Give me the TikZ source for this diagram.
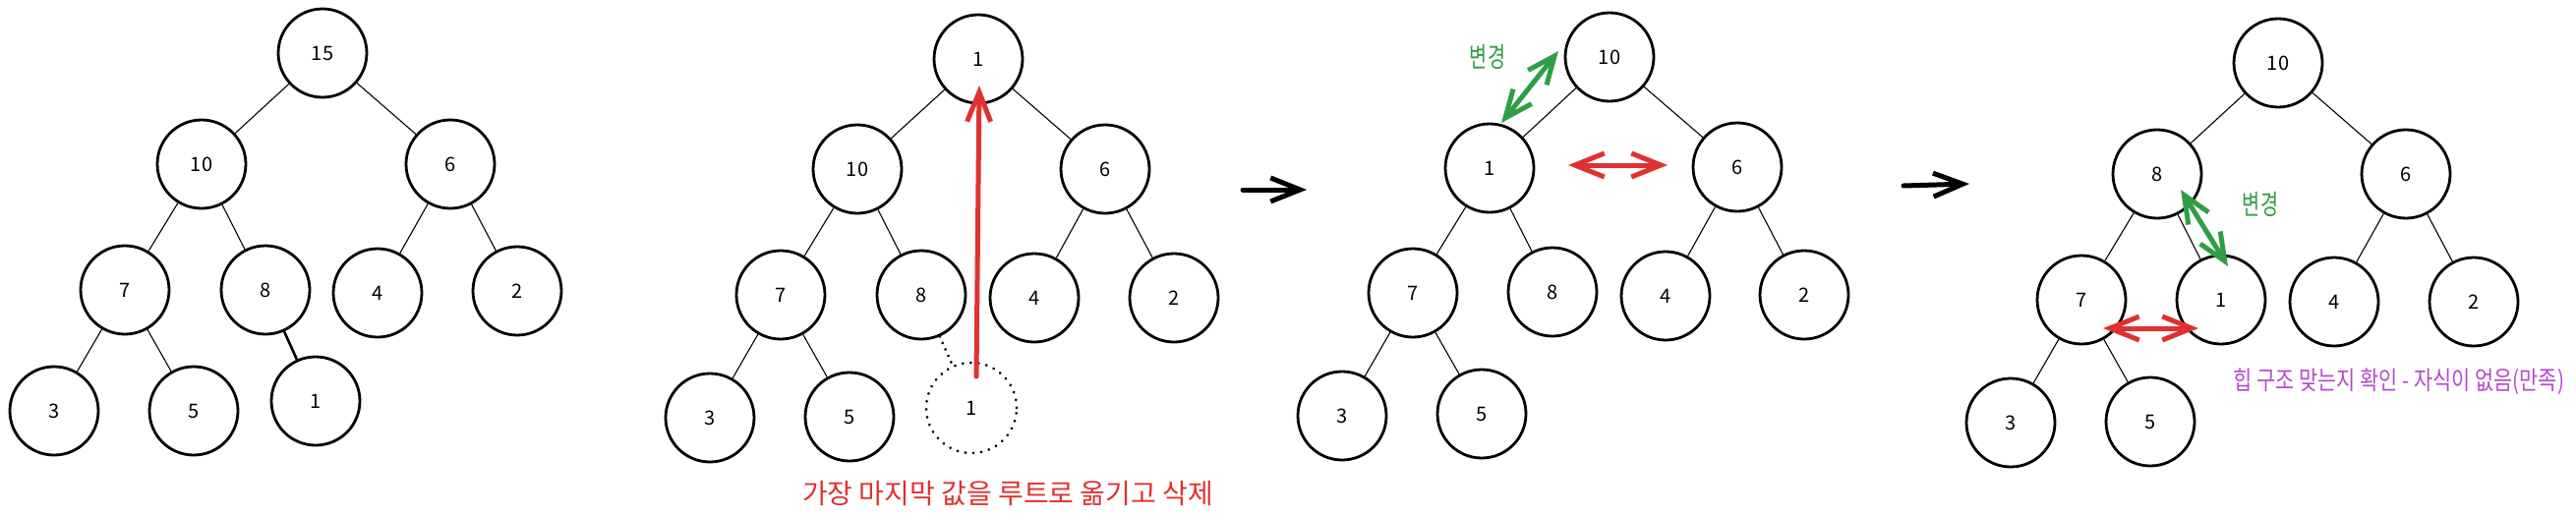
\documentclass[tikz,border=0pt]{standalone}
\usepackage{fontspec}
\setmainfont{Noto Sans CJK KR}
\newfontfamily\krwide{Noto Sans CJK KR}
\newfontfamily\krnarrow[FakeStretch=0.8]{Noto Sans CJK KR}
\newfontfamily\krtall[FakeStretch=0.7]{Noto Sans CJK KR}
\usetikzlibrary{arrows.meta}
\definecolor{exred}{HTML}{E03131}
\definecolor{exgreen}{HTML}{2F9E44}
\definecolor{exviolet}{RGB}{180,75,205}
\tikzset{
  hn/.style={circle, draw=black, line width=2.8pt, minimum size=90pt, inner sep=0pt,
             font=\fontsize{20}{24}\selectfont},
  dn/.style={circle, draw=black, line width=3pt, minimum size=92pt, inner sep=0pt,
             dash pattern=on 0.1pt off 8pt, line cap=round, font=\fontsize{20}{24}\selectfont},
  ed/.style={line width=1.1pt},
  edthick/.style={line width=2.6pt},
  eddot/.style={line width=3pt, dash pattern=on 0.1pt off 7pt, line cap=round},
  flowarrow/.style={line width=5pt, line cap=round, -{Straight Barb[length=30pt,width=24pt]}},
  redmove/.style={exred, line width=5pt, line cap=round, -{Straight Barb[length=30pt,width=24pt]}},
  swapred/.style={exred, line width=5pt, line cap=round,
                  {Straight Barb[length=30pt,width=24pt]}-{Straight Barb[length=30pt,width=24pt]}},
  swapgreen/.style={exgreen, line width=5pt, line cap=round,
                  {Straight Barb[length=28pt,width=24pt]}-{Straight Barb[length=28pt,width=24pt]}},
  redlabel/.style={text=exred, font=\krwide\fontsize{28}{32}\selectfont, inner sep=0pt},
  greenlabel/.style={text=exgreen, font=\krtall\fontsize{28}{32}\selectfont, inner sep=0pt},
  violetlabel/.style={text=exviolet, font=\krnarrow\fontsize{26}{30}\selectfont, inner sep=0pt}
}
\begin{document}
\begin{tikzpicture}[x=1pt,y=-1pt]
\useasboundingbox (0,0) rectangle (2620,525);
% ---------- tree 1 ----------
\node[hn] (a15) at (328,54) {15};
\node[hn] (a10) at (205,167) {10};
\node[hn] (a6) at (458,167) {6};
\node[hn] (a7) at (127,295) {7};
\node[hn] (a8) at (270,295) {8};
\node[hn] (a4) at (384,298) {4};
\node[hn] (a2) at (526,296) {2};
\node[hn] (a3) at (55,418) {3};
\node[hn] (a5) at (197,418) {5};
\node[hn] (a1) at (321,408) {1};
\draw[ed] (a15) -- (a10);
\draw[ed] (a15) -- (a6);
\draw[ed] (a10) -- (a7);
\draw[ed] (a10) -- (a8);
\draw[ed] (a6) -- (a4);
\draw[ed] (a6) -- (a2);
\draw[ed] (a7) -- (a3);
\draw[ed] (a7) -- (a5);
\draw[edthick] (a8) -- (a1);
% ---------- tree 2 ----------
\node[hn] (b1) at (995,60) {1};
\node[hn] (b10) at (872,172) {10};
\node[hn] (b6) at (1124,172) {6};
\node[hn] (b7) at (794,300) {7};
\node[hn] (b8) at (937,300) {8};
\node[hn] (b4) at (1052,303) {4};
\node[hn] (b2) at (1194,303) {2};
\node[hn] (b3) at (722,425) {3};
\node[hn] (b5) at (864,424) {5};
\node[dn] (bd1) at (988,415) {1};
\draw[ed] (b1) -- (b10);
\draw[ed] (b1) -- (b6);
\draw[ed] (b10) -- (b7);
\draw[ed] (b10) -- (b8);
\draw[ed] (b6) -- (b4);
\draw[ed] (b6) -- (b2);
\draw[ed] (b7) -- (b3);
\draw[ed] (b7) -- (b5);
\draw[eddot] (b8) -- (bd1);
\coordinate (bmoveS) at (993,383);
\coordinate (bmoveE) at (996,87);
\draw[redmove] (bmoveS) -- (bmoveE);
\node[redlabel] (bnote) at (1025,502) {가장 마지막 값을 루트로 옮기고 삭제};
\coordinate (f1S) at (1264,193);
\coordinate (f1E) at (1329,193);
\draw[flowarrow] (f1S) -- (f1E);
% ---------- tree 3 ----------
\node[hn] (c10) at (1637,58) {10};
\node[hn] (c1) at (1515,171) {1};
\node[hn] (c6) at (1767,170) {6};
\node[hn] (c7) at (1437,298) {7};
\node[hn] (c8) at (1579,297) {8};
\node[hn] (c4) at (1694,301) {4};
\node[hn] (c2) at (1835,300) {2};
\node[hn] (c3) at (1365,423) {3};
\node[hn] (c5) at (1507,421) {5};
\draw[ed] (c10) -- (c1);
\draw[ed] (c10) -- (c6);
\draw[ed] (c1) -- (c7);
\draw[ed] (c1) -- (c8);
\draw[ed] (c6) -- (c4);
\draw[ed] (c6) -- (c2);
\draw[ed] (c7) -- (c3);
\draw[ed] (c7) -- (c5);
\coordinate (cgS) at (1527,125);
\coordinate (cgE) at (1585,52);
\draw[swapgreen] (cgS) -- (cgE);
\node[greenlabel] (cchg) at (1513,58) {변경};
\coordinate (crS) at (1595,168);
\coordinate (crE) at (1696,168);
\draw[swapred] (crS) -- (crE);
\coordinate (f2S) at (1936,189);
\coordinate (f2E) at (2003,187);
\draw[flowarrow] (f2S) -- (f2E);
% ---------- tree 4 ----------
\node[hn] (d10) at (2317,64) {10};
\node[hn] (d8) at (2194,177) {8};
\node[hn] (d6) at (2447,177) {6};
\node[hn] (d7) at (2117,305) {7};
\node[hn] (d1) at (2259,305) {1};
\node[hn] (d4) at (2374,307) {4};
\node[hn] (d2) at (2516,307) {2};
\node[hn] (d3) at (2045,430) {3};
\node[hn] (d5) at (2187,429) {5};
\draw[ed] (d10) -- (d8);
\draw[ed] (d10) -- (d6);
\draw[ed] (d8) -- (d7);
\draw[ed] (d8) -- (d1);
\draw[ed] (d6) -- (d4);
\draw[ed] (d6) -- (d2);
\draw[ed] (d7) -- (d3);
\draw[ed] (d7) -- (d5);
\coordinate (dgS) at (2218,193);
\coordinate (dgE) at (2266,271);
\draw[swapgreen] (dgS) -- (dgE);
\node[greenlabel] (dchg) at (2299,208) {변경};
\coordinate (drS) at (2139,334);
\coordinate (drE) at (2236,334);
\draw[swapred] (drS) -- (drE);
\node[violetlabel] (dnote) at (2440,388) {힙 구조 맞는지 확인 - 자식이 없음(만족)};
\end{tikzpicture}
\end{document}
